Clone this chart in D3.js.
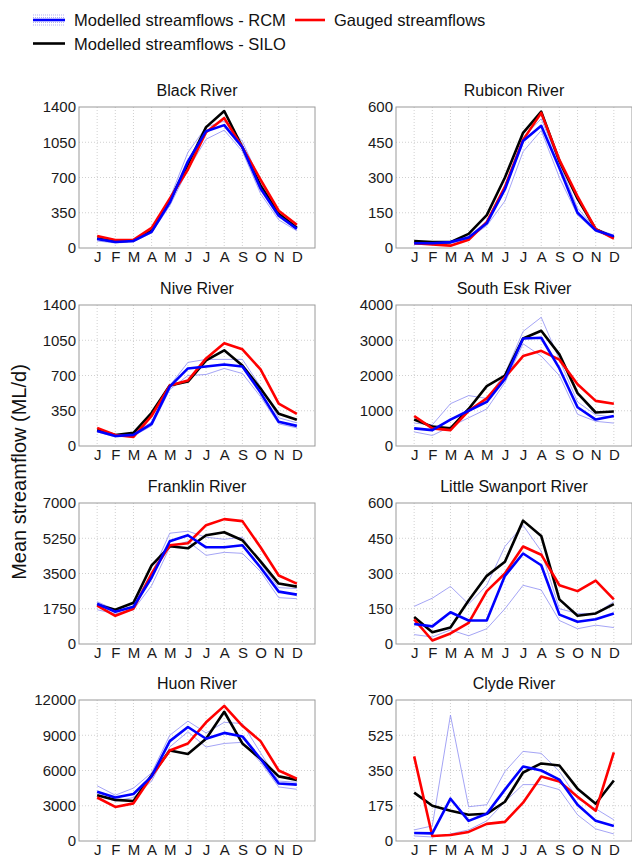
<!DOCTYPE html>
<html><head><meta charset="utf-8">
<script src="https://cdn.jsdelivr.net/npm/d3@7"></script>
<style>body{margin:0;background:#fff}svg{font-family:"Liberation Sans",Arial,sans-serif;display:block}</style>
</head><body><svg id="c" width="632" height="858"></svg>
<script>
const months = ["J","F","M","A","M","J","J","A","S","O","N","D"];
const rivers = ["Black River","Rubicon River","Nive River","South Esk River","Franklin River","Little Swanport River","Huon River","Clyde River"];
const yTickLabels = [
  [0,350,700,1050,1400],
  [0,150,300,450,600],
  [0,350,700,1050,1400],
  [0,1000,2000,3000,4000],
  [0,1750,3500,5250,7000],
  [0,150,300,450,600],
  [0,3000,6000,9000,12000],
  [0,175,350,525,700]
];
// Gauged streamflows (red)
const gauged = [
  [120,80,80,200,490,780,1150,1290,1000,680,370,230],
  [20,15,10,35,110,260,460,575,375,220,80,40],
  [180,110,90,300,600,650,870,1020,960,760,420,320],
  [850,500,450,1000,1350,1950,2550,2700,2450,1750,1280,1200],
  [1900,1400,1750,3500,4900,5000,5900,6200,6100,4800,3400,3000],
  [105,15,45,90,225,300,415,380,250,225,270,190],
  [3700,2900,3200,5500,7700,8300,10100,11500,9800,8500,6000,5300],
  [420,25,30,45,85,95,190,320,295,220,150,440]
];
// Modelled streamflows - SILO (black)
const silo = [
  [95,65,75,170,470,830,1200,1360,1000,620,340,200],
  [30,25,25,60,140,300,490,580,370,210,80,45],
  [160,110,130,330,600,640,850,950,800,570,320,260],
  [750,550,500,1050,1700,2000,3050,3270,2600,1500,950,980],
  [1950,1700,2050,3900,4850,4750,5400,5550,5150,4100,3000,2850],
  [115,50,70,185,290,350,525,460,190,120,130,170],
  [3900,3500,3400,5600,7700,7400,8700,11000,8300,7000,5500,5200],
  [240,175,150,130,135,195,340,385,375,260,185,300]
];
// Modelled streamflows - RCM (blue, mean)
const rcm = [
  [90,60,70,160,450,860,1160,1220,1000,590,320,190],
  [20,20,25,45,105,250,455,520,340,150,75,50],
  [150,100,110,220,590,770,790,810,790,530,240,200],
  [500,450,750,1000,1250,1900,3050,3070,2200,1100,750,850],
  [2000,1600,1850,3300,5100,5400,4800,4800,4900,3800,2600,2450],
  [85,75,135,100,100,290,385,335,125,95,105,130],
  [4200,3700,4000,5500,8500,9700,8700,9200,8900,7000,4900,4800],
  [40,38,210,100,135,255,370,350,305,180,100,75]
];
// RCM range, upper and lower (thin blue)
const rcmHigh = [
  [110,80,85,185,490,950,1200,1260,1060,660,345,215],
  [25,22,28,50,115,265,470,550,360,170,82,55],
  [170,110,120,240,600,830,860,860,860,590,280,230],
  [650,600,1200,1430,1350,2050,3250,3650,2450,1250,880,820],
  [2100,1700,2000,3500,5500,5600,5300,5200,5300,4000,2800,2750],
  [160,195,245,170,250,415,505,395,150,130,130,180],
  [4700,3900,4500,5800,9000,10200,9200,10100,10000,7500,5100,5000],
  [55,75,625,170,180,345,445,435,345,210,160,105]
];
const rcmLow = [
  [70,50,60,150,420,780,1080,1170,960,540,280,170],
  [15,15,20,40,95,200,410,500,300,140,70,45],
  [140,90,100,200,560,700,710,770,720,490,220,180],
  [400,300,550,800,1050,1800,2900,2550,2000,900,700,650],
  [1700,1500,1700,2900,4800,5100,4400,4550,4500,3600,2300,2250],
  [40,30,60,35,65,150,250,230,100,65,80,70],
  [3900,3400,3700,5100,8000,9300,8000,8300,8400,6700,4600,4400],
  [25,20,35,55,100,195,280,280,255,130,60,35]
];

const svg = d3.select("#c");
const colLeft = [79, 396];
const rowTop = [107, 305, 503, 700];
const W = 236, H = 141;
const thinColor = "#8d8df2";

rivers.forEach((name, i) => {
  const left = colLeft[i % 2], top = rowTop[Math.floor(i / 2)];
  const ticks = yTickLabels[i];
  const ymax = ticks[ticks.length - 1];
  const x = d3.scaleLinear().domain([0, 13]).range([left, left + W]);
  const y = d3.scaleLinear().domain([0, ymax]).range([top + H, top]);
  const g = svg.append("g");

  // grid
  g.selectAll(".vg").data(d3.range(1, 13)).join("line")
    .attr("x1", d => x(d)).attr("x2", d => x(d)).attr("y1", top).attr("y2", top + H)
    .attr("stroke", "#c4c4c4").attr("stroke-width", 0.8).attr("stroke-dasharray", "1,2");
  g.selectAll(".hg").data(ticks.slice(1, -1)).join("line")
    .attr("x1", left).attr("x2", left + W).attr("y1", d => y(d)).attr("y2", d => y(d))
    .attr("stroke", "#c4c4c4").attr("stroke-width", 0.8).attr("stroke-dasharray", "1,2");

  // axes (labels)
  const ya = d3.axisLeft(y).tickValues(ticks).tickSize(0).tickPadding(3).tickFormat(d3.format("d"));
  const yg = g.append("g").attr("transform", `translate(${left},0)`).call(ya);
  yg.select(".domain").remove();
  yg.selectAll("text").attr("font-size", 15).attr("fill", "#1a1a1a");
  const xa = d3.axisBottom(x).tickValues(d3.range(1, 13)).tickSize(0).tickPadding(3)
    .tickFormat(d => months[d - 1]);
  const xg = g.append("g").attr("transform", `translate(0,${top + H})`).call(xa);
  xg.select(".domain").remove();
  xg.selectAll("text").attr("font-size", 15).attr("fill", "#1a1a1a");

  // box
  g.append("rect").attr("x", left).attr("y", top).attr("width", W).attr("height", H)
    .attr("fill", "none").attr("stroke", "#9a9a9a").attr("stroke-width", 1);

  // title
  g.append("text").attr("x", left + W / 2).attr("y", top - 11).attr("text-anchor", "middle")
    .attr("font-size", 16).attr("fill", "#111").text(name);

  const line = d3.line().x((d, k) => x(k + 1)).y(d => y(d));
  [rcmHigh[i], rcmLow[i]].forEach(s => {
    g.append("path").attr("d", line(s)).attr("fill", "none")
      .attr("stroke", thinColor).attr("stroke-width", 0.8);
  });
  g.append("path").attr("d", line(silo[i])).attr("fill", "none").attr("stroke", "#000").attr("stroke-width", 2.6).attr("stroke-linejoin", "round");
  g.append("path").attr("d", line(gauged[i])).attr("fill", "none").attr("stroke", "#ff0000").attr("stroke-width", 2.6).attr("stroke-linejoin", "round");
  g.append("path").attr("d", line(rcm[i])).attr("fill", "none").attr("stroke", "#0000ff").attr("stroke-width", 2.6).attr("stroke-linejoin", "round");
});

// y-axis label
svg.append("text").attr("transform", "translate(26,472) rotate(-90)").attr("text-anchor", "middle")
  .attr("font-size", 20).attr("fill", "#111").text("Mean streamflow (ML/d)");

// legend
const lg = svg.append("g");
[15, 17.5, 22.5, 25].forEach(yy => {
  lg.append("line").attr("x1", 33).attr("x2", 65).attr("y1", yy).attr("y2", yy)
    .attr("stroke", thinColor).attr("stroke-width", 0.7).attr("stroke-dasharray", "1,1");
});
lg.append("line").attr("x1", 33).attr("x2", 65).attr("y1", 20).attr("y2", 20).attr("stroke", "#0000ff").attr("stroke-width", 2.6);
lg.append("text").attr("x", 74).attr("y", 26).attr("font-size", 16.5).attr("fill", "#111").text("Modelled streamflows - RCM");
lg.append("line").attr("x1", 295).attr("x2", 325).attr("y1", 20).attr("y2", 20).attr("stroke", "#ff0000").attr("stroke-width", 2.6);
lg.append("text").attr("x", 334).attr("y", 26).attr("font-size", 16.5).attr("fill", "#111").text("Gauged streamflows");
lg.append("line").attr("x1", 33).attr("x2", 65).attr("y1", 43.5).attr("y2", 43.5).attr("stroke", "#000").attr("stroke-width", 2.6);
lg.append("text").attr("x", 74).attr("y", 50).attr("font-size", 16.5).attr("fill", "#111").text("Modelled streamflows - SILO");
</script></body></html>
